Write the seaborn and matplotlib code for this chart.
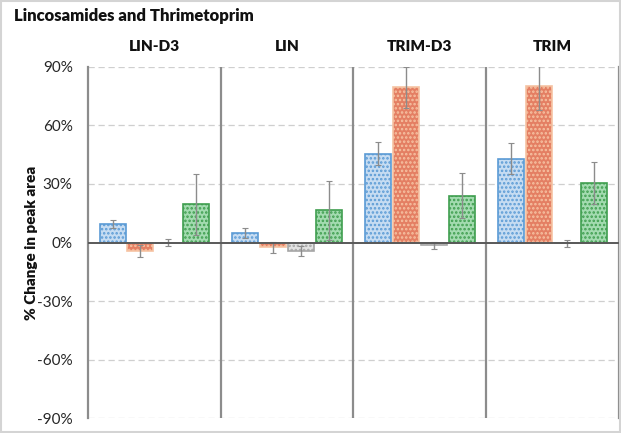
import matplotlib
matplotlib.use("Agg")
import matplotlib.pyplot as plt
from matplotlib.patches import Rectangle
from matplotlib.ticker import FuncFormatter
import seaborn as sns
import pandas as pd

# Compounds (panels) and the four measured series
compounds = ["LIN-D3", "LIN", "TRIM-D3", "TRIM"]
series = ["Series 1", "Series 2", "Series 3", "Series 4"]

# % change in peak area per compound, one list per series
values_s1 = [9.5, 5.0, 45.5, 43.0]
values_s2 = [-4.5, -2.5, 79.5, 80.0]
values_s3 = [0.0, -4.5, -1.5, -0.5]
values_s4 = [19.5, 16.5, 24.0, 30.5]

# error bar half-widths
err_s1 = [2.0, 2.5, 6.0, 8.0]
err_s2 = [3.0, 3.0, 10.5, 12.0]
err_s3 = [2.0, 2.5, 2.0, 2.0]
err_s4 = [15.5, 15.0, 11.5, 11.0]

yticks = [-90, -60, -30, 0, 30, 60, 90]

title = "Lincosamides and Thrimetoprim"
ylabel = "% Change in peak area"

face_colors = ["#c6dcf2", "#e47f63", "#e3e3e3", "#a3dbb0"]
edge_colors = ["#5b9bd5", "#f6c3a3", "#a6a6a6", "#3f9e4f"]

all_values = [values_s1, values_s2, values_s3, values_s4]
all_errs = [err_s1, err_s2, err_s3, err_s4]

rows = []
for s, vals in zip(series, all_values):
    for c, v in zip(compounds, vals):
        rows.append({"compound": c, "series": s, "value": v})
df = pd.DataFrame(rows)

sns.set_style("white")
plt.rcParams["font.family"] = ["Lato", "DejaVu Sans"]
plt.rcParams["hatch.linewidth"] = 1.2

fig = plt.figure(figsize=(6.21, 4.33), dpi=100)
ax = fig.add_axes([0.1417, 0.0346, 0.855, 0.8107])

sns.barplot(data=df, x="compound", y="value", hue="series", order=compounds,
            hue_order=series, width=0.84, gap=0.07, errorbar=None,
            legend=False, ax=ax, zorder=3)

bar_containers = list(ax.containers)
for i, cont in enumerate(bar_containers):
    xs = []
    for bar in cont.patches:
        bar.set_facecolor(face_colors[i])
        bar.set_edgecolor(edge_colors[i])
        bar.set_hatch("....")
        bar.set_linewidth(1.2)
        xs.append(bar.get_x() + bar.get_width() / 2)
    ax.errorbar(xs, all_values[i], yerr=all_errs[i], fmt="none",
                ecolor="#8c8c8c", elinewidth=1.0, capsize=2, capthick=0.8,
                zorder=4)

ax.set_ylim(-90, 90)
ax.set_xlim(-0.5, 3.5)
ax.set_yticks(yticks)
ax.yaxis.set_major_formatter(FuncFormatter(lambda v, p: f"{v:.0f}%"))
ax.tick_params(axis="y", length=0, pad=11, labelsize=11, labelcolor="#262626")

ax.xaxis.set_ticks_position("top")
ax.xaxis.set_label_position("top")
ax.tick_params(axis="x", length=0, pad=10, labelsize=11, labelcolor="#111111")
for lbl in ax.get_xticklabels():
    lbl.set_fontweight("heavy")
ax.set_xlabel("")
ax.set_ylabel(ylabel, fontsize=11, fontweight="heavy", color="#111111",
              labelpad=-1)

# dashed gridlines, solid zero line
for y in yticks:
    if y != 0:
        ax.axhline(y, color="#cfcfcf", lw=0.9, ls=(0, (5, 3)), zorder=1)
ax.axhline(0, color="#595959", lw=1.4, zorder=5)

# panel dividers
for xv in [0.5, 1.5, 2.5]:
    ax.axvline(xv, color="#8c8c8c", lw=1.6, zorder=2)

for side in ["top", "bottom"]:
    ax.spines[side].set_visible(False)
for side in ["left", "right"]:
    ax.spines[side].set_visible(True)
    ax.spines[side].set_color("#8c8c8c")
    ax.spines[side].set_linewidth(1.6)

fig.text(0.022, 0.962, title, fontsize=12, fontweight="heavy",
         color="#111111", ha="left", va="center")

fig.patches.append(Rectangle((0.001, 0.002), 0.997, 0.995,
                             transform=fig.transFigure, fill=False,
                             edgecolor="#d4d4d4", lw=1.5))

fig.savefig("out.png", dpi=100)
